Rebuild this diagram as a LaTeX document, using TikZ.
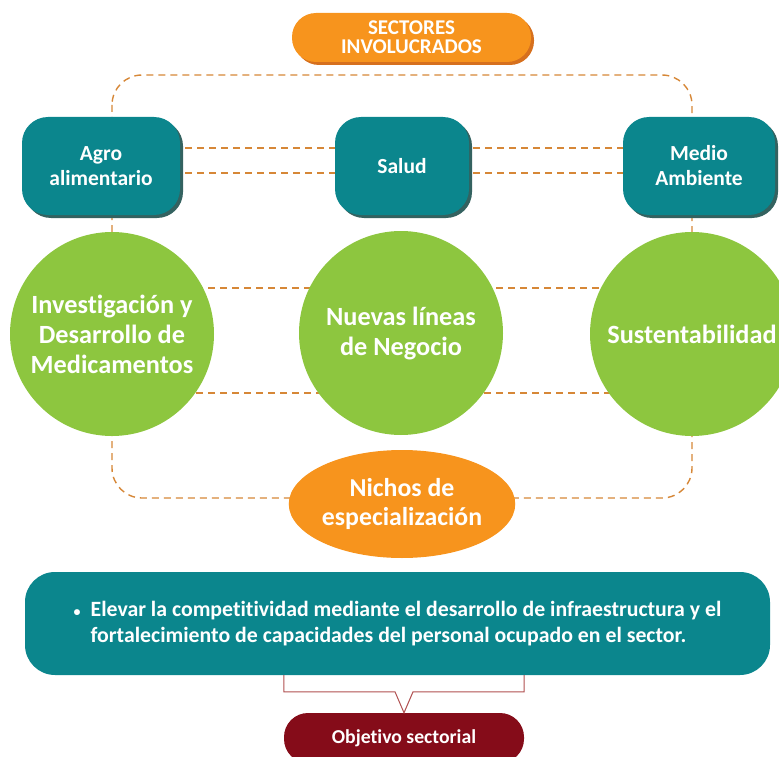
\documentclass[tikz,border=0pt]{standalone}
\usepackage{fontspec}
\setmainfont[Ligatures=NoCommon]{Carlito}
\usepackage{tikz}
\usetikzlibrary{positioning,shapes,shapes.geometric,shadows,backgrounds,calc}
\definecolor{sectororange}{RGB}{247,148,29}
\definecolor{sectorshadow}{RGB}{214,112,30}
\definecolor{dashorange}{RGB}{214,135,55}
\definecolor{tealbox}{RGB}{11,134,141}
\definecolor{tealshadow}{RGB}{52,98,96}
\definecolor{themegreen}{RGB}{141,198,63}
\definecolor{goalred}{RGB}{133,12,25}
\definecolor{calloutred}{RGB}{176,80,80}

\begin{document}
\begin{tikzpicture}[x=1pt, y=-1pt]
    % Define styles
    \tikzstyle{pill} = [rectangle, rounded corners=24, minimum width=239, minimum height=49, inner sep=0, align=center, fill=sectororange, text=white, font=\bfseries\fontsize{21}{19}\selectfont, drop shadow={shadow xshift=3pt, shadow yshift=-3pt, fill=sectorshadow, opacity=1}]
    \tikzstyle{sector} = [rectangle, rounded corners=26, minimum height=98, inner sep=0, align=center, fill=tealbox, text=white, font=\bfseries\fontsize{21.5}{25}\selectfont, drop shadow={shadow xshift=3pt, shadow yshift=-3pt, fill=tealshadow, opacity=1}]
    \tikzstyle{theme} = [circle, minimum size=204, inner sep=0, align=center, fill=themegreen, text=white, font=\bfseries\fontsize{26.3}{30}\selectfont]
    \tikzstyle{niche} = [ellipse, minimum width=225, minimum height=108, inner sep=0, align=center, fill=sectororange, text=white, font=\bfseries\fontsize{25.8}{29}\selectfont]
    \tikzstyle{goal} = [rectangle, rounded corners=30, minimum width=745, minimum height=103, inner sep=0, align=left, fill=tealbox, text=white, font=\bfseries\fontsize{21.8}{26}\selectfont]
    \tikzstyle{objective} = [rectangle, rounded corners=24, minimum width=240, minimum height=50, inner sep=0, fill=goalred, text=white, font=\bfseries\fontsize{19.7}{22}\selectfont]
    \tikzstyle{link} = [draw=dashorange, line width=1.4pt, dash pattern=on 7pt off 5pt]
    \tikzstyle{callout} = [draw=calloutred, line width=1pt]

    \useasboundingbox (0,0) rectangle (779,757);

    % Sectors
    \node [pill] (sectores) at (411.5,37.5) {SECTORES\\INVOLUCRADOS};
    \node [sector, minimum width=158] (agro) at (101,166) {Agro\\alimentario};
    \node [sector, minimum width=134] (salud) at (402,166) {Salud};
    \node [sector, minimum width=152] (medio) at (699,166) {Medio\\Ambiente};

    % Themes
    \node [theme] (investigacion) at (112,334) {Investigación y\\Desarrollo de\\Medicamentos};
    \node [theme] (negocio) at (401,333) {Nuevas líneas\\de Negocio};
    \node [theme] (sustentabilidad) at (692,334) {Sustentabilidad};
    \node [niche] (nichos) at (402,504) {Nichos de\\especialización};

    % Objective
    \node [goal] (meta) at (397.5,623.5) {\makebox[17pt][l]{\fontsize{14}{14}\selectfont\textbullet}Elevar la competitividad mediante el desarrollo de infraestructura y el\\\hspace*{17pt}fortalecimiento de capacidades del personal ocupado en el sector.};
    \node [objective] (objetivo) at (404,738) {Objetivo sectorial};

    \coordinate (looptop) at (402,75);
    \coordinate (loopbottom) at (402,498);

    % Dashed links
    \begin{scope}[on background layer]
        \draw [link, rounded corners=30] (investigacion |- looptop) rectangle (sustentabilidad |- loopbottom);
        \draw [link] ([yshift=18pt]agro.center) -- ([yshift=18pt]medio.center);
        \draw [link] ([yshift=-7pt]agro.center) -- ([yshift=-7pt]medio.center);
        \draw [link] ([yshift=46pt]investigacion.center) -- ([yshift=46pt]sustentabilidad.center);
        \draw [link] ([yshift=-59pt]investigacion.center) -- ([yshift=-59pt]sustentabilidad.center);
    \end{scope}

    % Callout
    \draw [callout] (meta.south -| objetivo.west) |- ([xshift=-9pt, yshift=21pt]objetivo.north) -- (objetivo.north) -- ([xshift=9pt, yshift=21pt]objetivo.north) -| (meta.south -| objetivo.east);
\end{tikzpicture}
\end{document}
